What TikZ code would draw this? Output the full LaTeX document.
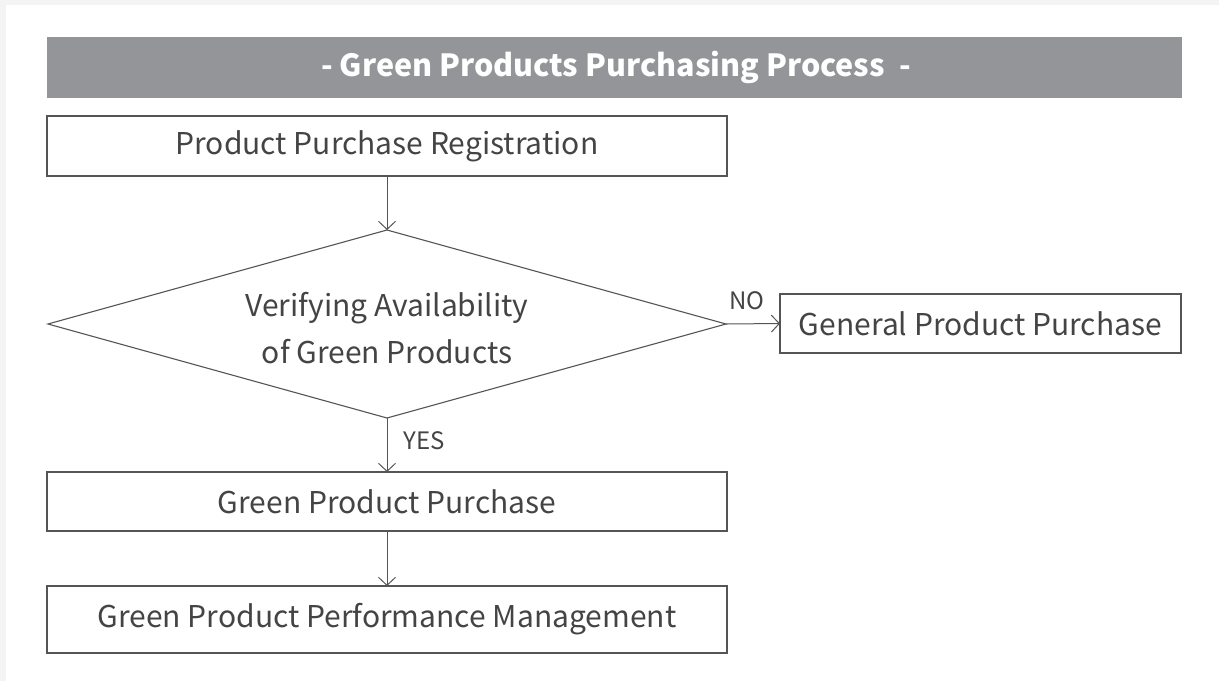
\documentclass[tikz,border=0pt]{standalone}
\usepackage{fontspec}
\setmainfont{Noto Sans CJK KR}
\usetikzlibrary{arrows.meta,shapes.geometric}
\definecolor{pagebg}{HTML}{F4F4F4}
\definecolor{barcol}{HTML}{939598}
\definecolor{linecol}{HTML}{555555}
\definecolor{textcol}{HTML}{444444}
\tikzset{
  stepbox/.style={draw=linecol, line width=1.1pt, rectangle, inner sep=0pt, outer sep=0pt,
    text=textcol, font=\fontsize{30}{36}\selectfont},
  decision/.style={draw=linecol, line width=1.1pt, diamond, inner sep=0pt, outer sep=0pt},
  flow/.style={draw=linecol, line width=1pt, -{Straight Barb[length=8pt,width=17pt,line width=1pt]}},
  branchlabel/.style={text=textcol, font=\fontsize{24}{28}\selectfont, inner sep=0pt},
  titletext/.style={text=white, font=\fontsize{30.5}{34}\selectfont\bfseries, inner sep=0pt}
}
\begin{document}
\begin{tikzpicture}[x=1pt,y=-1pt]
\useasboundingbox (0,0) rectangle (1219,681);
\fill[pagebg] (0,0) rectangle (1219,681);
\fill[white] (6,5) rectangle (1219,681);

% heading bar
\fill[barcol] (47,37) rectangle (1182,98);
\node[titletext] (title) at (616,67.5) {- Green Products Purchasing Process\ \ -};

% process steps
\node[stepbox, minimum width=680pt, minimum height=60pt] (reg) at (387,146) {Product Purchase Registration};
\node[decision, minimum width=678pt, minimum height=188pt] (check) at (387,324) {};
\node[text=textcol, font=\fontsize{30}{47}\selectfont, align=center, inner sep=0pt] (checktext) at (387,328)
  {Verifying Availability\\of Green Products};
\node[stepbox, minimum width=401pt, minimum height=59pt] (general) at (980.5,323.5) {General Product Purchase};
\node[stepbox, minimum width=680pt, minimum height=59pt] (green) at (387,501.5) {Green Product Purchase};
\node[stepbox, minimum width=680pt, minimum height=67pt] (perf) at (387,619.5) {Green Product Performance Management};

% connectors
\draw[flow] (reg.south) -- (check.north);
\draw[flow] (check.east) -- (general.west);
\draw[flow] (check.south) -- (green.north);
\draw[flow] (green.south) -- (perf.north);

% branch labels
\node[branchlabel] (nolabel) at (747,301) {NO};
\node[branchlabel] (yeslabel) at (424,441) {YES};
\end{tikzpicture}
\end{document}
